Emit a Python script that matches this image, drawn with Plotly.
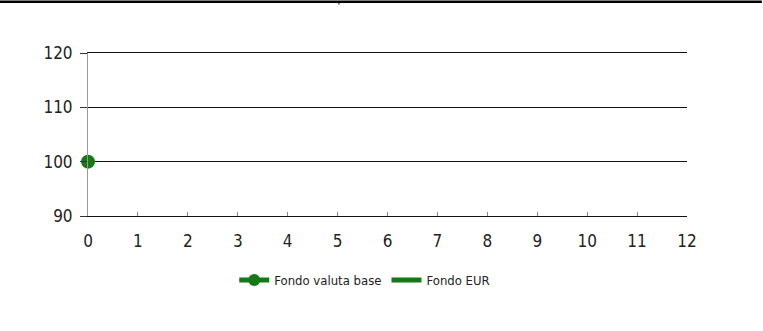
import plotly.graph_objects as go

# Series data
months = [0]
fondo_valuta_base = [100]
fondo_eur = [100]

x_ticks = list(range(0, 13))
y_ticks = [90, 100, 110, 120]

GREEN = "#157a15"
FONT = "DejaVu Sans Condensed, Liberation Sans Narrow, Arial Narrow, sans-serif"

fig = go.Figure()
fig.add_trace(go.Scatter(
    x=months, y=fondo_valuta_base, name="Fondo valuta base",
    mode="lines+markers",
    line=dict(color=GREEN, width=2.5),
    marker=dict(color=GREEN, size=14),
    cliponaxis=False,
))
fig.add_trace(go.Scatter(
    x=months, y=fondo_eur, name="Fondo EUR",
    mode="lines",
    line=dict(color=GREEN, width=2.5),
))

fig.update_layout(
    width=763, height=331,
    margin=dict(l=88, r=76, t=53, b=115),
    paper_bgcolor="white", plot_bgcolor="white",
    font=dict(family=FONT, color="#222222", size=17),
    showlegend=True,
    legend=dict(
        orientation="h", x=0.462, xanchor="center", y=-0.393, yanchor="middle",
        font=dict(size=13, color="#222222"),
        itemwidth=30, itemsizing="constant", tracegroupgap=0,
    ),
    xaxis=dict(
        range=[0, 12], tickvals=x_ticks, ticktext=[str(v) for v in x_ticks],
        showgrid=False, zeroline=False,
        showline=True, mirror=True, linecolor="#111111", linewidth=1,
        ticks="inside", ticklen=4, tickcolor="#888888", tickwidth=1,
        ticklabelstandoff=10,
    ),
    yaxis=dict(
        range=[90, 120], tickvals=y_ticks, ticktext=[str(v) for v in y_ticks],
        showgrid=True, gridcolor="#111111", gridwidth=1.2,
        zeroline=False,
        showline=True, linecolor="#999999", linewidth=1,
        ticks="outside", ticklen=7, tickcolor="#333333", tickwidth=1,
        ticklabelstandoff=4,
    ),
    shapes=[
        dict(type="line", xref="paper", yref="paper",
             x0=-0.147, x1=1.125, y0=1.315, y1=1.315,
             line=dict(color="black", width=2.5)),
        dict(type="line", xref="paper", yref="paper",
             x0=0.419, x1=0.419, y0=1.315, y1=1.297,
             line=dict(color="black", width=1)),
    ],
)

fig.write_html("out.html")
